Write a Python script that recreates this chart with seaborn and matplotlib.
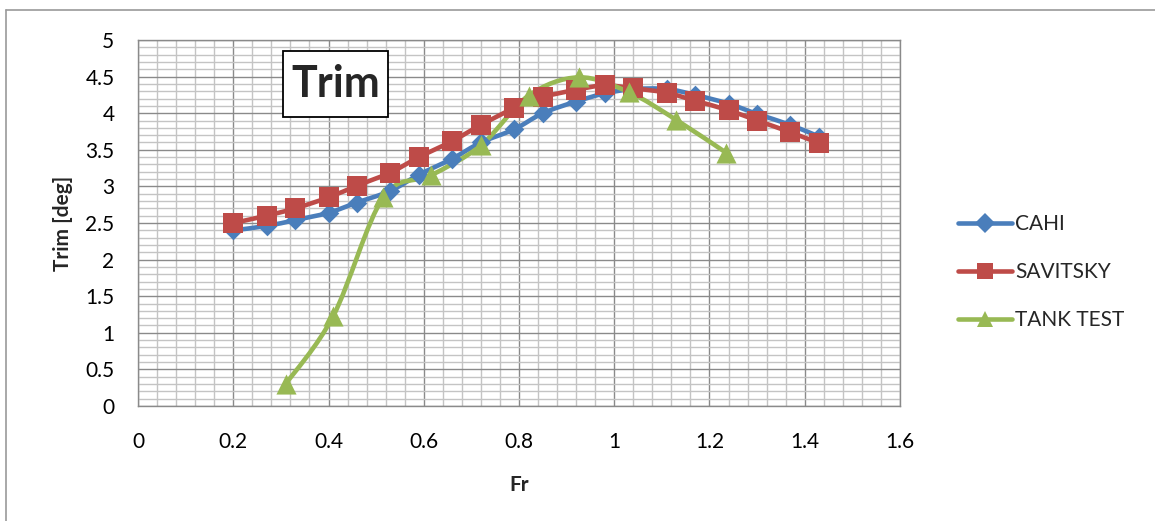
import numpy as np
import pandas as pd
import matplotlib
matplotlib.use("Agg")
import matplotlib.pyplot as plt
from matplotlib.path import Path
from matplotlib.patches import PathPatch, Rectangle
from matplotlib.lines import Line2D
from matplotlib.ticker import MultipleLocator
import seaborn as sns

# Froude numbers for the two prediction methods
fr = [0.20, 0.27, 0.33, 0.40, 0.46, 0.53, 0.59, 0.66, 0.72, 0.79,
      0.85, 0.92, 0.98, 1.04, 1.11, 1.17, 1.24, 1.30, 1.37, 1.43]
cahi = [2.40, 2.46, 2.54, 2.64, 2.78, 2.94, 3.16, 3.38, 3.60, 3.78,
        4.00, 4.16, 4.27, 4.33, 4.33, 4.25, 4.13, 3.99, 3.84, 3.68]
savitsky = [2.50, 2.60, 2.70, 2.85, 3.01, 3.19, 3.40, 3.62, 3.84, 4.07,
            4.22, 4.32, 4.38, 4.34, 4.28, 4.17, 4.04, 3.90, 3.74, 3.59]

# tank test measurements
tank_fr = [0.31, 0.41, 0.515, 0.615, 0.72, 0.82, 0.925, 1.03, 1.13, 1.235]
tank = [0.30, 1.23, 2.85, 3.15, 3.56, 4.24, 4.49, 4.29, 3.91, 3.46]

x_ticks = [0, 0.2, 0.4, 0.6, 0.8, 1, 1.2, 1.4, 1.6]
x_labels = ["0", "0.2", "0.4", "0.6", "0.8", "1", "1.2", "1.4", "1.6"]
y_ticks = [0, 0.5, 1, 1.5, 2, 2.5, 3, 3.5, 4, 4.5, 5]
y_labels = ["0", "0.5", "1", "1.5", "2", "2.5", "3", "3.5", "4", "4.5", "5"]

series = [
    ("CAHI", fr, cahi, "#4A7EBB", "D", 100),
    ("SAVITSKY", fr, savitsky, "#BE4B48", "s", 200),
    ("TANK TEST", tank_fr, tank, "#98B954", "^", 210),
]

sns.set_style("white")
plt.rcParams['font.family'] = ['Lato', 'DejaVu Sans']


def smooth_path(x, y):
    # Excel-like smoothed line through the points (Catmull-Rom as Bezier)
    pts = np.column_stack([x, y])
    n = len(pts)
    verts = [pts[0]]
    codes = [Path.MOVETO]
    for i in range(n - 1):
        p0 = pts[i - 1] if i > 0 else pts[i]
        p1 = pts[i]
        p2 = pts[i + 1]
        p3 = pts[i + 2] if i + 2 < n else pts[i + 1]
        verts += [p1 + (p2 - p0) / 6, p2 - (p3 - p1) / 6, p2]
        codes += [Path.CURVE4] * 3
    return Path(verts, codes)


fig = plt.figure(figsize=(11.55, 5.21), dpi=100)
ax = fig.add_axes([0.1195, 0.2207, 0.6597, 0.7025])

handles = []
for name, xs, ys, col, mk, size in series:
    ax.add_patch(PathPatch(smooth_path(xs, ys), fill=False, edgecolor=col,
                           lw=3.3, capstyle='round', zorder=3))
    df = pd.DataFrame({"Fr": xs, "Trim": ys})
    sns.scatterplot(data=df, x="Fr", y="Trim", ax=ax, marker=mk, s=size,
                    color=col, edgecolor=col, linewidth=0, zorder=4)
    handles.append(Line2D([], [], color=col, lw=3.3, marker=mk,
                          markersize=12 if mk != "D" else 10,
                          markeredgewidth=0, solid_capstyle='round'))

ax.set_xlim(0, 1.6)
ax.set_ylim(0, 5)
ax.set_xticks(x_ticks)
ax.set_xticklabels(x_labels)
ax.set_yticks(y_ticks)
ax.set_yticklabels(y_labels)
ax.xaxis.set_minor_locator(MultipleLocator(0.04))
ax.yaxis.set_minor_locator(MultipleLocator(0.1))
ax.grid(which='major', color='#8a8a8a', lw=1.0, zorder=1)
ax.grid(which='minor', color='#c4c4c4', lw=1.0, zorder=0)
ax.set_axisbelow(True)
for sp in ax.spines.values():
    sp.set_color('#8a8a8a')
    sp.set_linewidth(1.0)
ax.tick_params(which='major', length=6, width=1.0, color='#8a8a8a',
               labelsize=15, labelcolor='black')
ax.tick_params(axis='x', which='major', pad=13)
ax.tick_params(axis='y', which='major', pad=11)
ax.tick_params(which='minor', length=0)

ax.set_xlabel("Fr", fontsize=15, fontweight='bold', labelpad=16)
ax.set_ylabel("Trim [deg]", fontsize=15, fontweight='bold', labelpad=9)

# boxed chart title inside the plot area
ax.add_patch(Rectangle((0.1903, 0.7896), 0.1378, 0.1804, transform=ax.transAxes,
                       fc='white', ec='black', lw=1.3, zorder=5))
ax.text(0.259, 0.88, "Trim", transform=ax.transAxes, ha='center',
        va='center', fontsize=31, fontweight='bold', zorder=6)

fig.legend(handles, [s[0] for s in series], loc='upper left',
           bbox_to_anchor=(0.813, 0.625), frameon=False, fontsize=15,
           handlelength=2.6, handletextpad=0.15, labelspacing=1.35)

# outer chart-area border (left and top edges visible)
fig.add_artist(Line2D([6 / 1155, 6 / 1155], [0, 1 - 10 / 521],
                      transform=fig.transFigure, color='#9a9a9a', lw=1.2))
fig.add_artist(Line2D([6 / 1155, 1], [1 - 10 / 521, 1 - 10 / 521],
                      transform=fig.transFigure, color='#9a9a9a', lw=1.2))

fig.savefig("out.png", dpi=100)
